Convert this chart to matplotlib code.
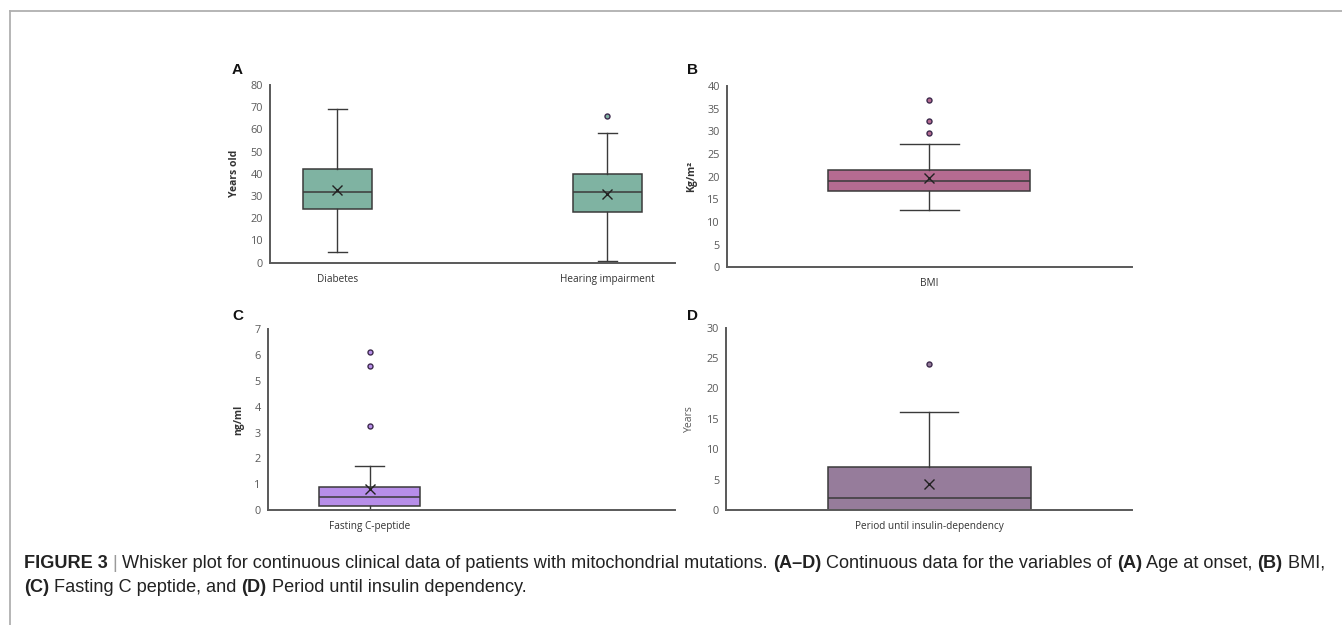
import matplotlib
matplotlib.use("Agg")
import matplotlib.pyplot as plt
from matplotlib.lines import Line2D

# ---------------- data ----------------
age_labels = ["Diabetes", "Hearing impairment"]
age_whislo = [5.0, 0.6]
age_q1 = [24.0, 23.0]
age_med = [32.0, 32.0]
age_mean = [32.7, 30.9]
age_q3 = [42.0, 40.0]
age_whishi = [69.0, 58.3]
age_fliers = [[], [66.2]]

bmi_labels = ["BMI"]
bmi_whislo = [12.6]
bmi_q1 = [16.9]
bmi_med = [19.1]
bmi_mean = [19.6]
bmi_q3 = [21.5]
bmi_whishi = [27.3]
bmi_fliers = [[29.6, 32.2, 37.0]]

cpep_labels = ["Fasting C-peptide"]
cpep_whislo = [0.0]
cpep_q1 = [0.17]
cpep_med = [0.5]
cpep_mean = [0.83]
cpep_q3 = [0.9]
cpep_whishi = [1.72]
cpep_fliers = [[3.26, 5.58, 6.12]]

per_labels = ["Period until insulin-dependency"]
per_whislo = [0.0]
per_q1 = [0.0]
per_med = [2.0]
per_mean = [4.2]
per_q3 = [7.0]
per_whishi = [16.1]
per_fliers = [[24.1]]

W, H = 1342, 625
fig = plt.figure(figsize=(W / 100, H / 100), dpi=100)

TICK_FONT = "Open Sans"
AX_COL = "#595959"
EDGE = "#3a3a3a"


def ax_at(l, r, t, b):
    return fig.add_axes([l / W, 1 - b / H, (r - l) / W, (b - t) / H])


def make_stats(labels, lo, q1, med, mean, q3, hi, fl):
    out = []
    for i in range(len(labels)):
        out.append(dict(label=labels[i], whislo=lo[i], q1=q1[i], med=med[i],
                        mean=mean[i], q3=q3[i], whishi=hi[i], fliers=fl[i]))
    return out


def panel(ax, stats, positions, width, color, ylim, ystep, xlim, ylabel,
          ylabel_bold, ylabel_dist, xticklabels):
    ax.bxp(stats, positions=positions, widths=width, capwidths=width * 0.29,
           showmeans=True, patch_artist=True, manage_ticks=False,
           boxprops=dict(facecolor=color, edgecolor=EDGE, linewidth=1.1),
           medianprops=dict(color=EDGE, linewidth=1.1),
           whiskerprops=dict(color=EDGE, linewidth=1.0),
           capprops=dict(color=EDGE, linewidth=1.0),
           meanprops=dict(marker="x", markeredgecolor="#222222",
                          markersize=7.5, markeredgewidth=1.0),
           flierprops=dict(marker="o", markerfacecolor=color,
                           markeredgecolor="#3d2a4d", markersize=3.6,
                           markeredgewidth=1.0))
    ax.set_ylim(*ylim)
    ax.set_xlim(*xlim)
    yt = []
    v = ylim[0]
    while v <= ylim[1] + 1e-9:
        yt.append(v)
        v += ystep
    ax.set_yticks(yt)
    ax.set_yticklabels([f"{t:g}" for t in yt], fontsize=7.8,
                       family=TICK_FONT, color=AX_COL)
    ax.set_xticks(positions[:len(xticklabels)])
    ax.set_xticklabels(xticklabels, fontsize=7.2, family=TICK_FONT,
                       color="#333333")
    ax.tick_params(axis="both", length=0)
    ax.tick_params(axis="y", pad=5)
    ax.tick_params(axis="x", pad=8)
    for s in ["top", "right"]:
        ax.spines[s].set_visible(False)
    for s in ["left", "bottom"]:
        ax.spines[s].set_color(AX_COL)
        ax.spines[s].set_linewidth(1.4)
    ax.set_ylabel(ylabel, fontsize=7.5, family=TICK_FONT,
                  fontweight="bold" if ylabel_bold else "normal",
                  color="#333333" if ylabel_bold else AX_COL)
    bb = ax.get_position()
    ax.yaxis.set_label_coords(-ylabel_dist / (bb.width * W), 0.5)
    ax.patch.set_alpha(0)


# Panel A
axA = ax_at(270, 675, 85, 262.7)
panel(axA, make_stats(age_labels, age_whislo, age_q1, age_med, age_mean,
                      age_q3, age_whishi, age_fliers),
      [1, 2], 0.253, "#7fb3a2", (0, 80), 10, (0.75, 2.25), "Years old", True,
      30, age_labels)

# Panel B
axB = ax_at(726.7, 1131.7, 86, 267.3)
panel(axB, make_stats(bmi_labels, bmi_whislo, bmi_q1, bmi_med, bmi_mean,
                      bmi_q3, bmi_whishi, bmi_fliers),
      [1], 0.5, "#b56b91", (0, 40), 5, (0.5, 1.5), "Kg/m²", True, 30,
      bmi_labels)

# Panel C
axC = ax_at(267.7, 675, 329.3, 510)
panel(axC, make_stats(cpep_labels, cpep_whislo, cpep_q1, cpep_med, cpep_mean,
                      cpep_q3, cpep_whishi, cpep_fliers),
      [1], 0.5, "#b78ee9", (0, 7), 1, (0.5, 2.5), "ng/ml", True, 23,
      cpep_labels)

# Panel D
axD = ax_at(726, 1132, 327.7, 510)
panel(axD, make_stats(per_labels, per_whislo, per_q1, per_med, per_mean,
                      per_q3, per_whishi, per_fliers),
      [1], 0.5, "#967c9b", (0, 30), 5, (0.5, 1.5), "Years", False, 31,
      per_labels)

# panel letters
for letter, x, yb in [("A", 232, 73.5), ("B", 687, 73.5),
                      ("C", 232, 320), ("D", 687, 320)]:
    fig.text(x / W, 1 - yb / H, letter, fontsize=11, fontweight="bold",
             family="Liberation Sans", color="#111111", va="baseline",
             ha="left")

# frame lines
fig.add_artist(Line2D([10 / W, 1], [1 - 10.5 / H, 1 - 10.5 / H],
                      transform=fig.transFigure, color="#b0b0b0", lw=1.3))
fig.add_artist(Line2D([10 / W, 10 / W], [1 - 10.5 / H, 0],
                      transform=fig.transFigure, color="#b0b0b0", lw=1.3))

# caption with mixed bold segments
line1 = [("FIGURE 3", True), (" | ", False),
         ("Whisker plot for continuous clinical data of patients with mitochondrial mutations. ", False),
         ("(A–D)", True), (" Continuous data for the variables of ", False),
         ("(A)", True), (" Age at onset, ", False), ("(B)", True),
         (" BMI,", False)]
line2 = [("(C)", True), (" Fasting C peptide, and ", False), ("(D)", True),
         (" Period until insulin dependency.", False)]

renderer = fig.canvas.get_renderer()


def draw_line(segs, x0, yb, size):
    x = x0
    arts = []
    for txt, bold in segs:
        col = "#9a9a9a" if txt.strip() == "|" else "#222222"
        t = fig.text(x / W, 1 - yb / H, txt, fontsize=size,
                     fontweight="bold" if bold else "normal",
                     family="Liberation Sans", color=col, va="baseline",
                     ha="left")
        ext = t.get_window_extent(renderer)
        x += ext.width
        arts.append(t)
    return x, arts


end, arts = draw_line(line1, 24, 567.5, 10)
for a in arts:
    a.remove()
size = 10 * (1328 - 24) / (end - 24)
draw_line(line1, 24, 567.5, size)
draw_line(line2, 24, 591.5, size)

fig.savefig("out.png", dpi=100)
